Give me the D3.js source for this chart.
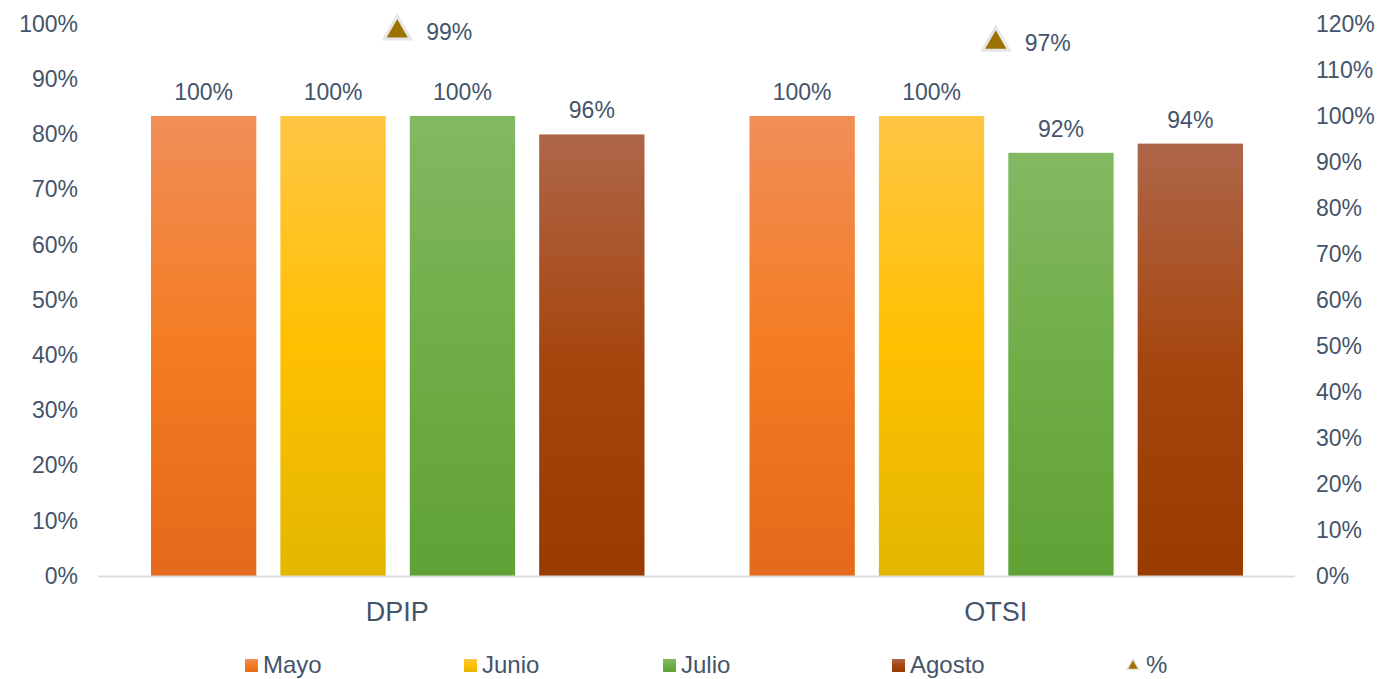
<!DOCTYPE html>
<html><head><meta charset="utf-8">
<script src="https://cdn.jsdelivr.net/npm/d3@7"></script>
<style>body{margin:0;background:#fff;}svg{display:block;font-family:"Liberation Sans",Arial,sans-serif;}</style>
</head><body><svg id="c" width="1380" height="679"></svg>
<script>
const categories = ["DPIP", "OTSI"];
const seriesNames = ["Mayo", "Junio", "Julio", "Agosto"];
const mayo = [1.00, 1.00];
const junio = [1.00, 1.00];
const julio = [1.00, 0.92];
const agosto = [0.96, 0.94];
const pct = [0.99, 0.97];
const leftTicks = [0,0.1,0.2,0.3,0.4,0.5,0.6,0.7,0.8,0.9,1.0];
const rightTicks = [0,0.1,0.2,0.3,0.4,0.5,0.6,0.7,0.8,0.9,1.0,1.1,1.2];
const seriesValues = [mayo, junio, julio, agosto];
const grads = [
  ["#F18E58","#F47C22","#E4691A"],
  ["#FFC644","#FFC000","#E2B700"],
  ["#82B963","#70AD47","#60A236"],
  ["#AE6649","#A6460F","#993A00"]
];
const textColor = "#44546A";
const svg = d3.select("#c");
const defs = svg.append("defs");
grads.forEach((g,i)=>{
  const lg = defs.append("linearGradient").attr("id","g"+i).attr("x1",0).attr("y1",0).attr("x2",0).attr("y2",1);
  lg.append("stop").attr("offset","0%").attr("stop-color",g[0]);
  lg.append("stop").attr("offset","50%").attr("stop-color",g[1]);
  lg.append("stop").attr("offset","100%").attr("stop-color",g[2]);
});
const L = 98, R = 1295, T = 24, B = 576;
const x0 = d3.scaleBand().domain(categories).range([L,R]).paddingInner(0).paddingOuter(0);
const x1 = d3.scaleBand().domain(seriesNames).range([53, x0.bandwidth()-52]).paddingInner(0.186).paddingOuter(0);
const yL = d3.scaleLinear().domain([0,1]).range([B,T]);
const yR = d3.scaleLinear().domain([0,1.2]).range([B,T]);
const fmt = d3.format(".0%");

// left axis
const la = svg.append("g").attr("transform",`translate(${L},0)`).call(d3.axisLeft(yL).tickValues(leftTicks).tickFormat(fmt).tickSize(0).tickPadding(20));
la.select(".domain").remove();
la.selectAll("text").attr("fill",textColor).style("font-size","23px").style("font-family","Liberation Sans, Arial, sans-serif");
// right axis
const ra = svg.append("g").attr("transform",`translate(${R},0)`).call(d3.axisRight(yR).tickValues(rightTicks).tickFormat(fmt).tickSize(0).tickPadding(21));
ra.select(".domain").remove();
ra.selectAll("text").attr("fill",textColor).style("font-size","23px").style("font-family","Liberation Sans, Arial, sans-serif");

// bars
const groups = svg.append("g").selectAll("g").data(categories).join("g").attr("transform",c=>`translate(${x0(c)},0)`);
seriesNames.forEach((s,si)=>{
  groups.append("rect")
    .attr("x",x1(s)).attr("width",x1.bandwidth())
    .attr("y",(c,ci)=>yR(seriesValues[si][ci]))
    .attr("height",(c,ci)=>B-yR(seriesValues[si][ci]))
    .attr("fill",`url(#g${si})`);
  groups.append("text")
    .attr("x",x1(s)+x1.bandwidth()/2)
    .attr("y",(c,ci)=>yR(seriesValues[si][ci])-16)
    .attr("text-anchor","middle").attr("fill",textColor).style("font-size","23px")
    .text((c,ci)=>fmt(seriesValues[si][ci]));
});
// baseline
svg.append("line").attr("x1",L).attr("x2",R).attr("y1",B+0.5).attr("y2",B+0.5).attr("stroke","#D9DDE3").attr("stroke-width",2);

// category labels
svg.append("g").selectAll("text").data(categories).join("text")
  .attr("x",c=>x0(c)+x0.bandwidth()/2).attr("y",621).attr("text-anchor","middle")
  .attr("fill",textColor).style("font-size","27px").text(c=>c);

// triangles
const tri = d3.symbol().type(d3.symbolTriangle).size(300);
categories.forEach((c,ci)=>{
  const cx = x0(c)+x0.bandwidth()/2, cy = yL(pct[ci]);
  svg.append("path").attr("d",tri).attr("transform",`translate(${cx},${cy+2})`)
    .attr("fill","#9C7300").attr("stroke","#E6E6E6").attr("stroke-width",3).attr("stroke-linejoin","miter");
  svg.append("text").attr("x",cx+29).attr("y",cy+10).attr("fill",textColor).style("font-size","23px").text(fmt(pct[ci]));
});

// legend
const legX = [245, 464, 663, 892];
seriesNames.forEach((s,si)=>{
  svg.append("rect").attr("x",legX[si]).attr("y",659).attr("width",13).attr("height",13).attr("fill",`url(#g${si})`);
  svg.append("text").attr("x",legX[si]+18).attr("y",673).attr("fill",textColor).style("font-size","24px").text(s);
});
svg.append("path").attr("d",d3.symbol().type(d3.symbolTriangle).size(65)).attr("transform","translate(1133,666)")
  .attr("fill","#9C7300").attr("stroke","#E6E6E6").attr("stroke-width",1.5);
svg.append("text").attr("x",1146).attr("y",673).attr("fill",textColor).style("font-size","24px").text("%");
</script></body></html>
